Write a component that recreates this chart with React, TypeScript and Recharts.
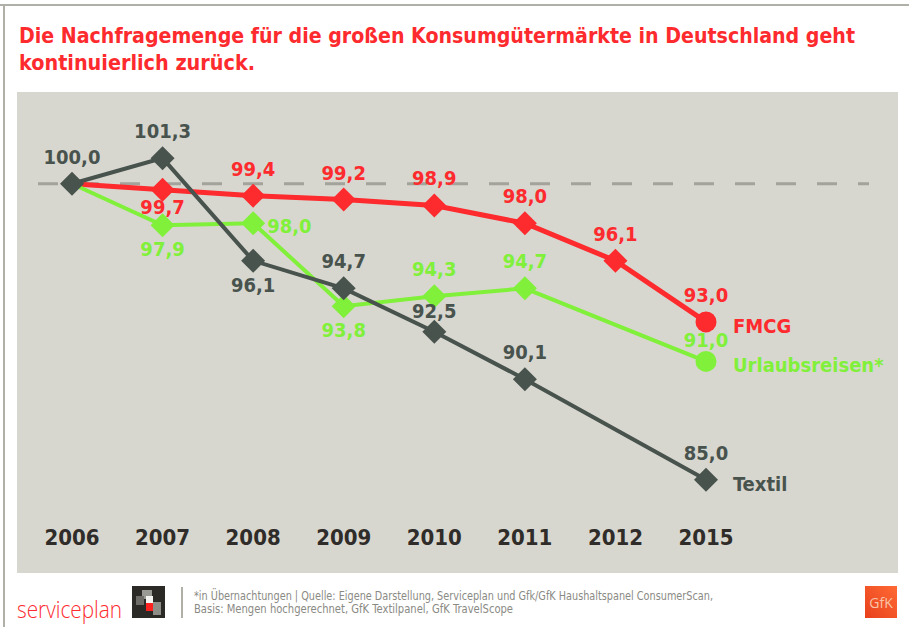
import { LineChart, Line, XAxis, YAxis, ReferenceLine, LabelList } from 'recharts';

const years = ['2006', '2007', '2008', '2009', '2010', '2011', '2012', '2015'];
const fmcg = [100.0, 99.7, 99.4, 99.2, 98.9, 98.0, 96.1, 93.0];
const urlaub = [100.0, 97.9, 98.0, 93.8, 94.3, 94.7, null, 91.0];
const textil = [100.0, 101.3, 96.1, 94.7, 92.5, 90.1, null, 85.0];

// where each value label sits relative to its point
const fmcgPlaces = [null, 'belowHigh', 'above', 'above', 'above', 'above', 'above', 'above'];
const urlaubPlaces = [null, 'below', 'right', 'below', 'above', 'above', null, 'aboveLow'];
const textilPlaces = ['above', 'above', 'below', 'above', 'aboveLow', 'above', null, 'above'];

const data = years.map((year, i) => ({
  year,
  fmcg: fmcg[i],
  urlaub: urlaub[i],
  textil: textil[i],
}));

const RED = '#fd2a2e';
const GREEN = '#80f03a';
const DARK = '#48534e';
const BG = '#d8d7cf';
const FONT = "'DejaVu Sans Condensed', 'Liberation Sans Narrow', 'DejaVu Sans', sans-serif";

const OFFSETS: Record<string, { dx: number; dy: number; anchor: string }> = {
  above: { dx: 0, dy: -20, anchor: 'middle' },
  aboveLow: { dx: 0, dy: -14, anchor: 'middle' },
  below: { dx: 0, dy: 31, anchor: 'middle' },
  belowHigh: { dx: 0, dy: 24, anchor: 'middle' },
  right: { dx: 14, dy: 10, anchor: 'start' },
};

const fmt = (v: number) => v.toFixed(1).replace('.', ',');

const makeLabel = (color: string, places: (string | null)[], name: string) => (p: any) => {
  const { x, y, value, index } = p;
  if (value == null || x == null || y == null) return null;
  const place = places[index];
  const o = place ? OFFSETS[place] : null;
  return (
    <g key={`lab-${name}-${index}`}>
      {o && (
        <text x={x + o.dx} y={y + o.dy} textAnchor={o.anchor} fill={color} fontFamily={FONT} fontWeight={700} fontSize={20}>
          {fmt(value)}
        </text>
      )}
      {index === years.length - 1 && (
        <text x={x + 27} y={y + 11} fill={color} fontFamily={FONT} fontWeight={700} fontSize={20}>
          {name}
        </text>
      )}
    </g>
  );
};

const makeDot = (color: string, skipFirst: boolean, roundLast: boolean) => (p: any) => {
  const { cx, cy, index } = p;
  const key = `dot-${color}-${index}`;
  if (cx == null || cy == null || Number.isNaN(cy)) return <g key={key} />;
  if (skipFirst && index === 0) return <g key={key} />;
  if (roundLast && index === years.length - 1) return <circle key={key} cx={cx} cy={cy} r={10.5} fill={color} />;
  const s = 12;
  return <path key={key} d={`M${cx},${cy - s}L${cx + s},${cy}L${cx},${cy + s}L${cx - s},${cy}Z`} fill={color} />;
};

const YearTick = (p: any) => (
  <text x={p.x} y={p.y + 45.5} textAnchor="middle" fill="#2f2c29" fontFamily={FONT} fontWeight={700} fontSize={22}>
    {p.payload.value}
  </text>
);

// dashed 100-line, runs a little past the first and last year
const DashedBase = (p: any) => (
  <line x1={21} y1={p.y1} x2={852} y2={p.y2} stroke="#a3a39b" strokeWidth={3} strokeDasharray="20 21" />
);

export default function App() {
  return (
    <div style={{ position: 'absolute', left: 0, top: 0, width: 909, height: 627, background: '#fff', overflow: 'hidden' }}>
      <svg width={909} height={627} style={{ position: 'absolute', left: 0, top: 0 }}>
        <rect x={0} y={4} width={909} height={2} fill="#b0b0a8" />
        <rect x={3} y={4} width={2} height={623} fill="#b0b0a8" />
        <text x={19} y={43} fill={RED} fontFamily={FONT} fontWeight={700} fontSize={22} textLength={836} lengthAdjust="spacingAndGlyphs">
          Die Nachfragemenge für die großen Konsumgütermärkte in Deutschland geht
        </text>
        <text x={19} y={70} fill={RED} fontFamily={FONT} fontWeight={700} fontSize={22} textLength={236} lengthAdjust="spacingAndGlyphs">
          kontinuierlich zurück.
        </text>
        <rect x={17} y={92} width={881} height={481} fill={BG} />

        {/* footer */}
        <text x={17} y={618} fill={RED} fontFamily="'Open Sans', sans-serif" fontWeight={300} fontSize={23} textLength={105} lengthAdjust="spacingAndGlyphs">
          serviceplan
        </text>
        <rect x={132} y={586} width={33} height={32} fill="#2c2a26" />
        <rect x={142} y={590} width={10} height={9} fill="#9a9a94" />
        <rect x={136} y={596} width={8} height={9} fill="#6e6d68" />
        <rect x={146} y={596} width={7} height={9} fill="#f4f4f2" />
        <rect x={146} y={603} width={7} height={8} fill="#ff2020" />
        <rect x={153} y={602} width={8} height={13} fill="#8e8d88" />
        <rect x={181} y={587} width={2} height={31} fill="#b0b0a8" />
        <text x={194} y={600} fill="#8a8a84" fontFamily={FONT} fontSize={12} textLength={519} lengthAdjust="spacingAndGlyphs">
          *in Übernachtungen | Quelle: Eigene Darstellung, Serviceplan und Gfk/GfK Haushaltspanel ConsumerScan,
        </text>
        <text x={194} y={613} fill="#8a8a84" fontFamily={FONT} fontSize={12} textLength={319} lengthAdjust="spacingAndGlyphs">
          Basis: Mengen hochgerechnet, GfK Textilpanel, GfK TravelScope
        </text>
        <defs>
          <linearGradient id="gfk" x1="0" y1="1" x2="1" y2="0">
            <stop offset="0" stopColor="#e8401c" />
            <stop offset="1" stopColor="#ff6a34" />
          </linearGradient>
        </defs>
        <rect x={865} y={586} width={32} height={32} fill="url(#gfk)" />
        <text x={881} y={608} textAnchor="middle" fill="#f8c4a8" fontFamily="'Open Sans', sans-serif" fontSize={14}>
          GfK
        </text>
      </svg>

      <div style={{ position: 'absolute', left: 17, top: 92 }}>
        <LineChart width={881} height={481} data={data} margin={{ top: 3, right: 0, bottom: 0, left: 0 }}>
          <XAxis
            dataKey="year"
            height={73.5}
            axisLine={false}
            tickLine={false}
            tickSize={0}
            tickMargin={0}
            padding={{ left: 55, right: 192 }}
            tick={<YearTick />}
            interval={0}
          />
          <YAxis hide domain={[84, 104.5]} allowDataOverflow />
          <ReferenceLine y={100} shape={<DashedBase />} />
          <Line
            dataKey="fmcg"
            stroke={RED}
            strokeWidth={5}
            dot={makeDot(RED, true, true)}
            activeDot={false}
            isAnimationActive={false}
            connectNulls
          >
            <LabelList dataKey="fmcg" content={makeLabel(RED, fmcgPlaces, 'FMCG')} />
          </Line>
          <Line
            dataKey="urlaub"
            stroke={GREEN}
            strokeWidth={4}
            dot={makeDot(GREEN, true, true)}
            activeDot={false}
            isAnimationActive={false}
            connectNulls
          >
            <LabelList dataKey="urlaub" content={makeLabel(GREEN, urlaubPlaces, 'Urlaubsreisen*')} />
          </Line>
          <Line
            dataKey="textil"
            stroke={DARK}
            strokeWidth={4}
            dot={makeDot(DARK, false, false)}
            activeDot={false}
            isAnimationActive={false}
            connectNulls
          >
            <LabelList dataKey="textil" content={makeLabel(DARK, textilPlaces, 'Textil')} />
          </Line>
        </LineChart>
      </div>
    </div>
  );
}
